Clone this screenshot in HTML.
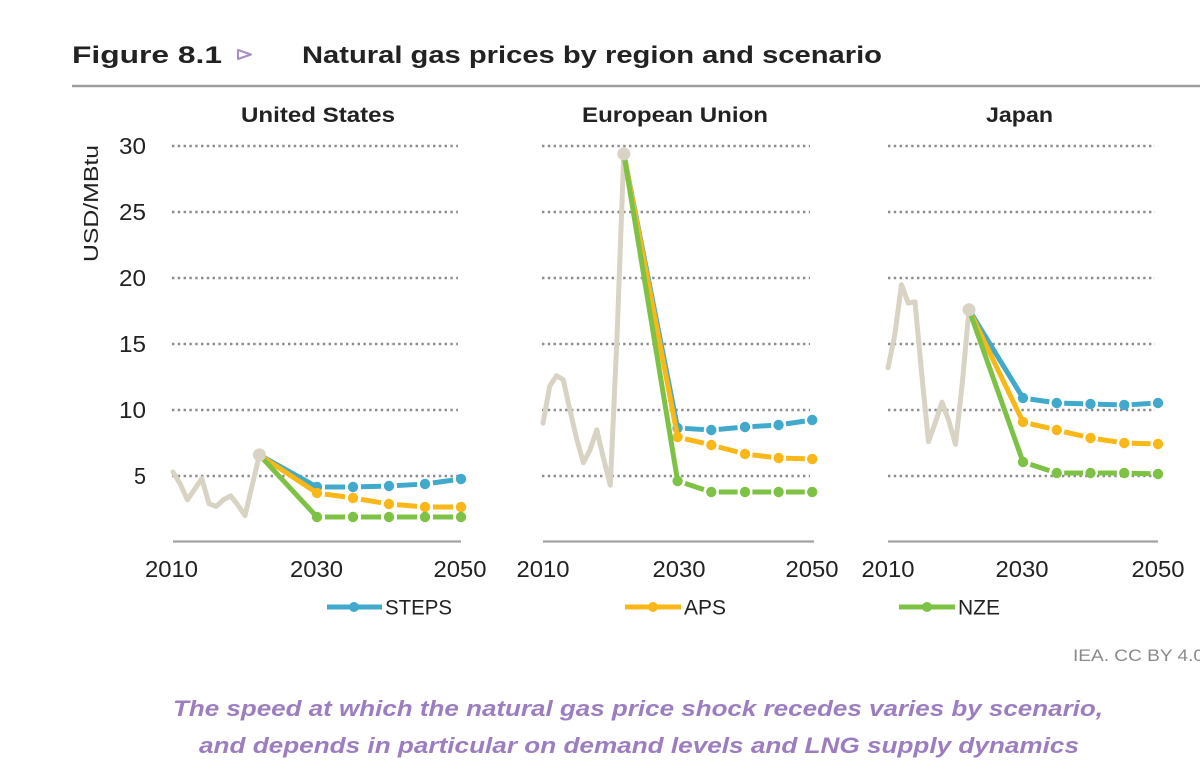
<!DOCTYPE html>
<html>
<head>
<meta charset="utf-8">
<style>
  html,body{margin:0;padding:0;background:#fff;}
  svg{display:block;}
  .t{font-family:"Liberation Sans",Arial,sans-serif;fill:#222;}
</style>
</head>
<body>
<svg width="1200" height="776" viewBox="0 0 1200 776" xmlns="http://www.w3.org/2000/svg">
  <rect width="1200" height="776" fill="#fff"/>

  <!-- Title -->
  <text class="t" x="72" y="63" font-size="24" font-weight="bold" fill="#141414" textLength="150" lengthAdjust="spacingAndGlyphs">Figure 8.1</text>
  <polygon points="238,50 238,59 251,54.5" fill="none" stroke="#a68dc7" stroke-width="2" stroke-linejoin="round"/>
  <text class="t" x="302" y="63" font-size="24" font-weight="bold" fill="#1a1a1a" textLength="580" lengthAdjust="spacingAndGlyphs">Natural gas prices by region and scenario</text>
  <line x1="72" y1="86" x2="1200" y2="86" stroke="#9c9c9c" stroke-width="2.5"/>

  <!-- Panel titles -->
  <text class="t" x="241" y="122" font-size="21" font-weight="bold" textLength="154" lengthAdjust="spacingAndGlyphs">United States</text>
  <text class="t" x="582" y="122" font-size="21" font-weight="bold" textLength="186" lengthAdjust="spacingAndGlyphs">European Union</text>
  <text class="t" x="986" y="122" font-size="21" font-weight="bold" textLength="67" lengthAdjust="spacingAndGlyphs">Japan</text>

  <!-- Y axis title -->
  <text class="t" transform="translate(98,203.5) rotate(-90)" x="0" y="0" font-size="20" text-anchor="middle" textLength="117" lengthAdjust="spacingAndGlyphs">USD/MBtu</text>

  <!-- Y tick labels -->
  <g class="t" font-size="23" text-anchor="end">
    <text x="146" y="154" textLength="27" lengthAdjust="spacingAndGlyphs">30</text>
    <text x="146" y="220" textLength="27" lengthAdjust="spacingAndGlyphs">25</text>
    <text x="146" y="286" textLength="27" lengthAdjust="spacingAndGlyphs">20</text>
    <text x="146" y="352" textLength="27" lengthAdjust="spacingAndGlyphs">15</text>
    <text x="146" y="418" textLength="27" lengthAdjust="spacingAndGlyphs">10</text>
    <text x="146" y="484" textLength="12" lengthAdjust="spacingAndGlyphs">5</text>
  </g>

  <!-- Gridlines -->
  <g stroke="#8c8c8c" stroke-width="2.4" stroke-dasharray="2.4 3.4" fill="none">
    <path d="M172 146H458M172 212H458M172 278H458M172 344H458M172 410H458M172 476H458"/>
    <path d="M542 146H810M542 212H810M542 278H810M542 344H810M542 410H810M542 476H810"/>
    <path d="M888 146H1155M888 212H1155M888 278H1155M888 344H1155M888 410H1155M888 476H1155"/>
  </g>

  <!-- Axis lines -->
  <g stroke="#a3a3a3" stroke-width="2.2">
    <line x1="173" y1="541.5" x2="461" y2="541.5"/>
    <line x1="543" y1="541.5" x2="814" y2="541.5"/>
    <line x1="888" y1="541.5" x2="1158" y2="541.5"/>
  </g>

  <!-- X tick labels -->
  <g class="t" font-size="23" text-anchor="middle">
    <text x="171.5" y="577" textLength="53" lengthAdjust="spacingAndGlyphs">2010</text>
    <text x="316.5" y="577" textLength="53" lengthAdjust="spacingAndGlyphs">2030</text>
    <text x="460" y="577" textLength="53" lengthAdjust="spacingAndGlyphs">2050</text>
    <text x="543" y="577" textLength="53" lengthAdjust="spacingAndGlyphs">2010</text>
    <text x="679" y="577" textLength="53" lengthAdjust="spacingAndGlyphs">2030</text>
    <text x="812" y="577" textLength="53" lengthAdjust="spacingAndGlyphs">2050</text>
    <text x="888" y="577" textLength="53" lengthAdjust="spacingAndGlyphs">2010</text>
    <text x="1022" y="577" textLength="53" lengthAdjust="spacingAndGlyphs">2030</text>
    <text x="1158" y="577" textLength="53" lengthAdjust="spacingAndGlyphs">2050</text>
  </g>

  <!-- Historical gray lines -->
  <g fill="none" stroke="#d8d3c3" stroke-width="5" stroke-linejoin="round" stroke-linecap="round">
    <polyline points="173,472 180.2,483.9 187.4,499.8 194.6,489.2 201.8,478.6 209,503.7 216.2,506.4 223.4,499.8 230.6,495.8 237.8,505 245,515.6 252.2,485.2 259.4,454.9"/>
    <polyline points="543,423.2 549.7,386.2 556.5,375.7 563.2,379.6 569.9,410 576.7,439 583.4,462.8 590.1,449.6 596.8,429.8 603.6,458.8 610.3,485.2 617,337.4 623.8,153.9"/>
    <polyline points="888,367.8 894.75,335 901.5,284.6 908.25,303.1 915,301.8 921.75,374.4 928.5,441.7 935.25,422.7 942,402.1 948.75,420.6 955.5,444.3 962.25,383.7 969,309.7"/>
  </g>

  <!-- ===== STEPS (blue) ===== -->
  <g stroke="#41a9cb" fill="#41a9cb" stroke-width="5">
    <line x1="259.4" y1="454.9" x2="317" y2="487"/>
    <g stroke-dasharray="0 22 56 22">
      <line x1="317" y1="487" x2="353" y2="487" pathLength="100"/>
      <line x1="353" y1="487" x2="389" y2="486" pathLength="100"/>
      <line x1="389" y1="486" x2="425" y2="484" pathLength="100"/>
      <line x1="425" y1="484" x2="461" y2="479" pathLength="100"/>
    </g>
    <g stroke="none">
      <circle cx="317" cy="487" r="5.2"/><circle cx="353" cy="487" r="5.2"/><circle cx="389" cy="486" r="5.2"/><circle cx="425" cy="484" r="5.2"/><circle cx="461" cy="479" r="5.2"/>
    </g>
    <line x1="623.8" y1="153.9" x2="677.6" y2="428"/>
    <g stroke-dasharray="0 22 56 22">
      <line x1="677.6" y1="428" x2="711.3" y2="430" pathLength="100"/>
      <line x1="711.3" y1="430" x2="745" y2="427" pathLength="100"/>
      <line x1="745" y1="427" x2="778.6" y2="425" pathLength="100"/>
      <line x1="778.6" y1="425" x2="812.2" y2="420" pathLength="100"/>
    </g>
    <g stroke="none">
      <circle cx="677.6" cy="428" r="5.2"/><circle cx="711.3" cy="430" r="5.2"/><circle cx="745" cy="427" r="5.2"/><circle cx="778.6" cy="425" r="5.2"/><circle cx="812.2" cy="420" r="5.2"/>
    </g>
    <line x1="969" y1="309.7" x2="1023" y2="398"/>
    <g stroke-dasharray="0 22 56 22">
      <line x1="1023" y1="398" x2="1056.75" y2="403" pathLength="100"/>
      <line x1="1056.75" y1="403" x2="1090.5" y2="404" pathLength="100"/>
      <line x1="1090.5" y1="404" x2="1124.25" y2="405" pathLength="100"/>
      <line x1="1124.25" y1="405" x2="1158" y2="403" pathLength="100"/>
    </g>
    <g stroke="none">
      <circle cx="1023" cy="398" r="5.2"/><circle cx="1056.75" cy="403" r="5.2"/><circle cx="1090.5" cy="404" r="5.2"/><circle cx="1124.25" cy="405" r="5.2"/><circle cx="1158" cy="403" r="5.2"/>
    </g>
  </g>

  <!-- ===== APS (yellow) ===== -->
  <g stroke="#fab818" fill="#fab818" stroke-width="5">
    <line x1="259.4" y1="454.9" x2="317" y2="493"/>
    <g stroke-dasharray="0 22 56 22">
      <line x1="317" y1="493" x2="353" y2="498" pathLength="100"/>
      <line x1="353" y1="498" x2="389" y2="504" pathLength="100"/>
      <line x1="389" y1="504" x2="425" y2="507" pathLength="100"/>
      <line x1="425" y1="507" x2="461" y2="507" pathLength="100"/>
    </g>
    <g stroke="none">
      <circle cx="317" cy="493" r="5.2"/><circle cx="353" cy="498" r="5.2"/><circle cx="389" cy="504" r="5.2"/><circle cx="425" cy="507" r="5.2"/><circle cx="461" cy="507" r="5.2"/>
    </g>
    <line x1="623.8" y1="153.9" x2="677.6" y2="437"/>
    <g stroke-dasharray="0 22 56 22">
      <line x1="677.6" y1="437" x2="711.3" y2="445" pathLength="100"/>
      <line x1="711.3" y1="445" x2="745" y2="454" pathLength="100"/>
      <line x1="745" y1="454" x2="778.6" y2="458" pathLength="100"/>
      <line x1="778.6" y1="458" x2="812.2" y2="459" pathLength="100"/>
    </g>
    <g stroke="none">
      <circle cx="677.6" cy="437" r="5.2"/><circle cx="711.3" cy="445" r="5.2"/><circle cx="745" cy="454" r="5.2"/><circle cx="778.6" cy="458" r="5.2"/><circle cx="812.2" cy="459" r="5.2"/>
    </g>
    <line x1="969" y1="309.7" x2="1023" y2="422"/>
    <g stroke-dasharray="0 22 56 22">
      <line x1="1023" y1="422" x2="1056.75" y2="430" pathLength="100"/>
      <line x1="1056.75" y1="430" x2="1090.5" y2="438" pathLength="100"/>
      <line x1="1090.5" y1="438" x2="1124.25" y2="443" pathLength="100"/>
      <line x1="1124.25" y1="443" x2="1158" y2="444" pathLength="100"/>
    </g>
    <g stroke="none">
      <circle cx="1023" cy="422" r="5.2"/><circle cx="1056.75" cy="430" r="5.2"/><circle cx="1090.5" cy="438" r="5.2"/><circle cx="1124.25" cy="443" r="5.2"/><circle cx="1158" cy="444" r="5.2"/>
    </g>
  </g>

  <!-- ===== NZE (green) ===== -->
  <g stroke="#7dc244" fill="#7dc244" stroke-width="5">
    <line x1="259.4" y1="454.9" x2="317" y2="517"/>
    <g stroke-dasharray="0 22 56 22">
      <line x1="317" y1="517" x2="353" y2="517" pathLength="100"/>
      <line x1="353" y1="517" x2="389" y2="517" pathLength="100"/>
      <line x1="389" y1="517" x2="425" y2="517" pathLength="100"/>
      <line x1="425" y1="517" x2="461" y2="517" pathLength="100"/>
    </g>
    <g stroke="none">
      <circle cx="317" cy="517" r="5.2"/><circle cx="353" cy="517" r="5.2"/><circle cx="389" cy="517" r="5.2"/><circle cx="425" cy="517" r="5.2"/><circle cx="461" cy="517" r="5.2"/>
    </g>
    <line x1="623.8" y1="153.9" x2="677.6" y2="481"/>
    <g stroke-dasharray="0 22 56 22">
      <line x1="677.6" y1="481" x2="711.3" y2="492" pathLength="100"/>
      <line x1="711.3" y1="492" x2="745" y2="492" pathLength="100"/>
      <line x1="745" y1="492" x2="778.6" y2="492" pathLength="100"/>
      <line x1="778.6" y1="492" x2="812.2" y2="492" pathLength="100"/>
    </g>
    <g stroke="none">
      <circle cx="677.6" cy="481" r="5.2"/><circle cx="711.3" cy="492" r="5.2"/><circle cx="745" cy="492" r="5.2"/><circle cx="778.6" cy="492" r="5.2"/><circle cx="812.2" cy="492" r="5.2"/>
    </g>
    <line x1="969" y1="309.7" x2="1023" y2="462"/>
    <g stroke-dasharray="0 22 56 22">
      <line x1="1023" y1="462" x2="1056.75" y2="473" pathLength="100"/>
      <line x1="1056.75" y1="473" x2="1090.5" y2="473" pathLength="100"/>
      <line x1="1090.5" y1="473" x2="1124.25" y2="473" pathLength="100"/>
      <line x1="1124.25" y1="473" x2="1158" y2="474" pathLength="100"/>
    </g>
    <g stroke="none">
      <circle cx="1023" cy="462" r="5.2"/><circle cx="1056.75" cy="473" r="5.2"/><circle cx="1090.5" cy="473" r="5.2"/><circle cx="1124.25" cy="473" r="5.2"/><circle cx="1158" cy="474" r="5.2"/>
    </g>
  </g>

  <!-- 2022 gray markers -->
  <g fill="#d8d3c3">
    <circle cx="259.4" cy="454.9" r="6.5"/>
    <circle cx="623.8" cy="153.9" r="6.5"/>
    <circle cx="969" cy="309.7" r="6.5"/>
  </g>

  <!-- Legend -->
  <g stroke-width="5">
    <line x1="327" y1="607" x2="382" y2="607" stroke="#41a9cb"/>
    <circle cx="354" cy="607" r="5" fill="#41a9cb"/>
    <line x1="625" y1="607" x2="681" y2="607" stroke="#fab818"/>
    <circle cx="653" cy="607" r="5" fill="#fab818"/>
    <line x1="899" y1="607" x2="955" y2="607" stroke="#7dc244"/>
    <circle cx="927" cy="607" r="5" fill="#7dc244"/>
  </g>
  <g class="t" font-size="21">
    <text x="385" y="614.5" textLength="67" lengthAdjust="spacingAndGlyphs">STEPS</text>
    <text x="684" y="614.5" textLength="42" lengthAdjust="spacingAndGlyphs">APS</text>
    <text x="958" y="614.5" textLength="42" lengthAdjust="spacingAndGlyphs">NZE</text>
  </g>

  <!-- Source -->
  <text class="t" x="1073" y="661" font-size="17" style="fill:#8a8a8a" textLength="131" lengthAdjust="spacingAndGlyphs">IEA. CC BY 4.0</text>

  <!-- Caption -->
  <g font-family="'Liberation Sans',Arial,sans-serif" font-size="22" font-weight="bold" font-style="italic" fill="#9c7ec0">
    <text x="173" y="716" textLength="930" lengthAdjust="spacingAndGlyphs">The speed at which the natural gas price shock recedes varies by scenario,</text>
    <text x="199" y="753" textLength="880" lengthAdjust="spacingAndGlyphs">and depends in particular on demand levels and LNG supply dynamics</text>
  </g>
</svg>
</body>
</html>
